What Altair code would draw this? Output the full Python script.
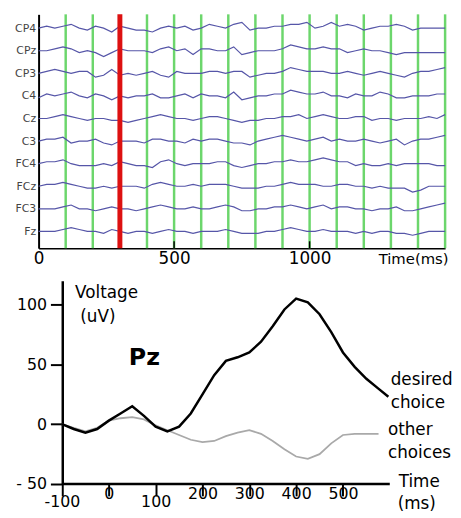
import json
import altair as alt
import pandas as pd

# ---------------- top panel: EEG traces ----------------
channels = ["Fz", "FC3", "FCz", "FC4", "C3", "Cz", "C4", "CP3", "CPz", "CP4"]
trace_times = list(range(0, 1501, 30))
trace_fz = [0,0,0,1,2,1,0,0,-1,1, 0,-1,0,0,-1,0,1,0,0,-1, 0,0,0,1,0,-1,-1,-1,0,0, 1,2,1,0,0,1,0,0,0,-1, 0,-1,0,0,-1,-1,-2,-1,0,0, 0]
trace_fc3 = [0,0,0,1,2,0,0,-1,0,1, 0,0,-1,0,1,2,1,0,0,1, 0,0,1,2,1,-1,-1,0,0,1, 1,2,1,0,1,2,0,1,1,0, 0,-1,0,0,1,-1,-1,0,1,2, 3]
trace_fcz = [0,1,1,2,1,0,-1,-1,0,-1, 0,0,0,-1,1,2,1,0,0,1, 0,1,1,1,0,-1,-1,-1,0,0, 1,2,1,1,1,0,0,1,1,0, 0,-1,0,-1,-1,-1,-3,-2,0,0, 0]
trace_fc4 = [0,1,1,2,0,-1,-1,-1,0,-1, 1,0,-1,-1,-2,1,2,0,-1,0, 0,0,1,1,-1,-2,-1,0,0,1, 1,2,1,1,2,3,2,1,1,-1, 0,-1,-1,0,-1,0,0,0,0,-1, -1]
trace_c3 = [0,1,1,2,-1,0,0,1,-1,-2, 0,0,0,-1,1,1,0,0,-1,1, 0,1,1,0,-1,-1,-2,0,1,2, 3,2,1,0,1,2,0,1,0,0, 1,0,-1,0,1,-2,0,1,1,2, 3]
trace_cz = [0,0,1,2,1,0,-1,0,0,-1, -1,-2,-1,0,1,2,1,0,0,-1, 0,1,1,0,-1,-2,-1,-1,0,0, 1,1,2,0,1,2,1,0,0,1, 1,-1,0,0,-1,0,0,0,1,0, 2]
trace_c4 = [-1,1,0,1,2,0,-1,1,0,-2, 0,-1,0,0,1,-1,-1,0,1,-1, 1,0,0,-1,2,-2,-1,0,0,1, 1,3,2,1,1,2,0,0,-1,1, 0,0,2,1,-1,-1,0,0,0,1, 1]
trace_cp3 = [0,1,2,1,0,1,1,-2,-1,2, -1,0,-1,0,1,-1,-2,1,0,0, 0,1,1,0,1,1,-2,-1,0,0, 1,3,2,1,1,1,0,0,1,0, -1,0,1,0,-1,-2,0,1,1,2, 3]
trace_cpz = [0,0,1,2,1,-1,0,-1,-3,-1, 1,0,0,0,-1,1,2,0,1,-2, 1,1,0,0,2,-2,-1,0,0,0, 1,3,2,1,1,2,1,1,-1,0, 1,0,0,-1,-2,-1,-1,-1,-1,-1, -1]
trace_cp4 = [0,1,0,1,2,0,-1,1,0,-2, 1,0,-1,-1,-2,0,1,0,1,-1, 0,2,1,0,2,3,-1,0,0,1, 1,2,2,3,0,1,3,1,2,1, -1,0,1,1,2,1,-1,0,0,0, 0]
traces = [trace_fz, trace_fc3, trace_fcz, trace_fc4, trace_c3,
          trace_cz, trace_c4, trace_cp3, trace_cpz, trace_cp4]
green_times = [100, 200, 400, 500, 600, 700, 800, 900, 1000, 1100, 1200, 1300, 1400, 1500]
red_times = [300]
top_tick_values = [0, 500, 1000]

# ---------------- bottom panel: ERP at Pz ----------------
desired_t = [-100, -75, -50, -25, 0, 25, 50, 75, 100, 125, 150, 175, 200, 225, 250,
             275, 300, 325, 350, 375, 400, 425, 450, 475, 500, 525, 550, 575, 597]
desired_v = [0, -4, -7, -4, 3, 9, 15, 7, -2, -6, -2, 9, 25, 41, 53,
             56, 60, 69, 82, 96, 105, 102, 92, 77, 60, 48, 38, 30, 23]
other_t = [-100, -75, -50, -25, 0, 25, 50, 75, 100, 125, 150, 175, 200, 225,
           250, 275, 300, 325, 350, 375, 400, 425, 450, 475, 500, 525, 550, 576]
other_v = [0, -3, -6, -3, 3, 5, 6, 4, -1, -5, -9, -13, -15, -14,
           -10, -7, -5, -8, -14, -21, -27, -29, -25, -16, -9, -8, -8, -8]
bottom_x_ticks = [-100, 0, 100, 200, 300, 400, 500]
bottom_y_ticks = [-50, 0, 50, 100]
ann_text = ["Voltage", "(uV)", "desired", "choice", "other", "choices", "Time", "(ms)"]
ann_t = [-72, -61, 602, 602, 596, 596, 619, 617]
ann_v = [110, 90, 37, 18, -5, -24, -48, -67]
pz_label = ["Pz"]
pz_t = [76]
pz_v = [55]

FONT = "DejaVu Sans"

# ---------- top chart ----------
TOP_W, TOP_H = 412, 237
rows = []
for i, (ch, tr) in enumerate(zip(channels, traces)):
    for t, d in zip(trace_times, tr):
        rows.append({"channel": ch, "t": t, "y": i + d * 0.085})
df_tr = pd.DataFrame(rows)

top_x_axis = alt.Axis(values=top_tick_values, ticks=False, grid=False, format="d",
                      labelFont=FONT, labelFontSize=17, labelColor="black",
                      labelFlush=False, labelPadding=3,
                      domainColor="black", domainWidth=1.5,
                      title="Time(ms)", titleFont=FONT, titleFontSize=15,
                      titleFontWeight="normal", titleColor="black",
                      titleAlign="right", titleAnchor="end", titleBaseline="top",
                      titleX=TOP_W + 3, titleY=4)
x_top = alt.X("t:Q", scale=alt.Scale(domain=[0, 1500], nice=False, zero=False),
              axis=top_x_axis)
label_expr = json.dumps(channels) + "[datum.value]"
y_top = alt.Y("y:Q", scale=alt.Scale(domain=[-0.742, 9.611], nice=False, zero=False),
              axis=alt.Axis(values=list(range(len(channels))), labelExpr=label_expr,
                            ticks=False, grid=False, title=None,
                            labelFont=FONT, labelFontSize=11, labelColor="#444",
                            labelPadding=3, domainColor="black", domainWidth=2))

green = alt.Chart(pd.DataFrame({"t": green_times})).mark_rule(
    color="#6cd66c", strokeWidth=2.5).encode(x=x_top)
lines = alt.Chart(df_tr).mark_line(color="#5656a8", strokeWidth=1.2).encode(
    x=x_top, y=y_top, detail="channel:N")
red = alt.Chart(pd.DataFrame({"t": red_times})).mark_rule(
    color="#dd1111", strokeWidth=5).encode(x=x_top)
ticks = alt.Chart(pd.DataFrame({"t": top_tick_values[1:]})).mark_rule(
    color="black", strokeWidth=1.5).encode(
    x=x_top, y=alt.value(TOP_H), y2=alt.value(TOP_H - 7))

top = alt.layer(green, lines, red, ticks).properties(width=TOP_W, height=TOP_H)

# ---------- bottom chart ----------
BW, BH = 420, 206
bx_axis = alt.Axis(values=bottom_x_ticks, domain=False, grid=False,
                   tickSize=12, tickWidth=2, tickColor="black",
                   labelExpr="datum.value < 0 ? '-' + abs(datum.value) : datum.label",
                   labelFont=FONT, labelFontSize=16, labelColor="black",
                   labelFlush=False,
                   labelPadding={"condition": {"test": "datum.value == -100 || datum.value == 100",
                                               "value": -2}, "value": -10},
                   title=None)
x_b = alt.X("t:Q", scale=alt.Scale(domain=[-150, 735], nice=False, zero=False), axis=bx_axis)
by_axis = alt.Axis(values=bottom_y_ticks, offset=-24, grid=False,
                   tickSize=12, tickWidth=2, tickColor="black",
                   domainColor="black", domainWidth=2.5,
                   labelExpr="datum.value == -50 ? '- 50' : datum.label",
                   labelFont=FONT, labelFontSize=16, labelColor="black",
                   labelPadding=4, title=None)
y_b = alt.Y("v:Q", scale=alt.Scale(domain=[-50, 120], nice=False, zero=False), axis=by_axis)

df_des = pd.DataFrame({"t": desired_t, "v": desired_v})
df_oth = pd.DataFrame({"t": other_t, "v": other_v})
l_oth = alt.Chart(df_oth).mark_line(color="#a9a9a9", strokeWidth=1.8).encode(x=x_b, y=y_b)
l_des = alt.Chart(df_des).mark_line(color="black", strokeWidth=2.5).encode(x=x_b, y=y_b)
axis_line = alt.Chart(pd.DataFrame({"t": [bottom_x_ticks[0]], "t2": [600], "v": [-50]})).mark_rule(
    color="black", strokeWidth=2.5).encode(x=x_b, x2="t2:Q", y=y_b)
ann = alt.Chart(pd.DataFrame({"t": ann_t, "v": ann_v, "label": ann_text})).mark_text(
    align="left", baseline="middle", font=FONT, fontSize=17, color="black").encode(
    x=x_b, y=y_b, text="label:N")
pz = alt.Chart(pd.DataFrame({"t": pz_t, "v": pz_v, "label": pz_label})).mark_text(
    align="center", baseline="middle", font=FONT, fontSize=24, fontWeight="bold",
    color="black").encode(x=x_b, y=y_b, text="label:N")

bottom = alt.layer(l_oth, l_des, axis_line, ann, pz).properties(width=BW, height=BH)

chart = alt.vconcat(top, bottom, spacing=14).properties(
    padding={"left": 6, "top": 0, "right": 0, "bottom": 0}
).configure_view(stroke=None)

chart.save("out.html", embed_options={"renderer": "svg", "actions": False})
